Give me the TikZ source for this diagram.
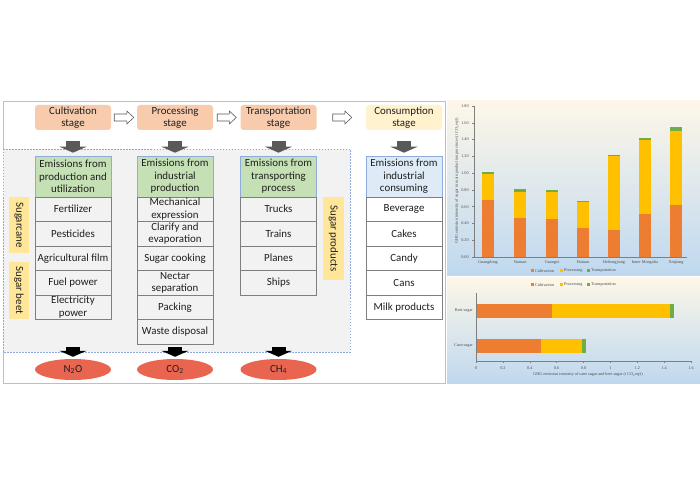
\documentclass[tikz,border=0pt]{standalone}
\usepackage{fontspec}
\setmainfont{Carlito}
\newfontfamily\chartfont{Liberation Serif}
\usetikzlibrary{calc,arrows.meta,shapes.geometric}
\definecolor{stageor}{HTML}{F8CBAD}
\definecolor{consyel}{HTML}{FFF2CC}
\definecolor{hdgreen}{HTML}{C5E0B4}
\definecolor{hdblue}{HTML}{DEEBF7}
\definecolor{hdborder}{HTML}{8FAADC}
\definecolor{itemborder}{HTML}{7F7F7F}
\definecolor{bggray}{HTML}{F2F2F2}
\definecolor{sideyel}{HTML}{FFE699}
\definecolor{gasred}{HTML}{EA6550}
\definecolor{darkarr}{HTML}{595959}
\definecolor{framegray}{HTML}{BFBFBF}
\definecolor{txt}{HTML}{1F1F1F}
\definecolor{cultc}{HTML}{ED7D31}
\definecolor{procc}{HTML}{FFC000}
\definecolor{tranc}{HTML}{70AD47}
\definecolor{paneltop}{HTML}{FDF7E8}
\definecolor{panelbot}{HTML}{BFD8EF}
\definecolor{axisc}{HTML}{7F7F7F}
\tikzset{
  base/.style={font=\fontsize{10.9}{12.5}\selectfont, text=txt, align=center, inner sep=0pt},
  stagebox/.style={base, rounded corners=3pt, minimum width=76pt, minimum height=25pt},
  headbox/.style={base, draw=hdborder, line width=0.6pt, fill=hdgreen, minimum width=76pt, minimum height=41pt},
  itembox/.style={base, draw=itemborder, line width=0.7pt, fill=bggray, minimum width=76pt, minimum height=24.5pt},
  sidebox/.style={base, fill=sideyel, rotate=-90, minimum height=20pt},
  gas/.style={base, ellipse, fill=gasred, minimum width=76pt, minimum height=21pt},
  downarr/.style={draw=darkarr, line width=14pt, -{Triangle[width=27pt,length=6pt]}},
  blackarr/.style={draw=black, line width=14pt, -{Triangle[width=27pt,length=6pt]}},
  hollow/.style={draw=darkarr, fill=white, line width=0.6pt, line join=miter,
    to path={let \p1=(\tikztostart), \p2=(\tikztotarget) in
      (\x1,\y1+3.5pt) -- (\x2-7pt,\y1+3.5pt) -- (\x2-7pt,\y1+6.5pt) -- (\x2,\y1)
      -- (\x2-7pt,\y1-6.5pt) -- (\x2-7pt,\y1-3.5pt) -- (\x1,\y1-3.5pt) -- cycle}},
  ctext/.style={font=\chartfont\fontsize{4.2}{4.7}\selectfont, text=txt!80, inner sep=0pt},
  axisline/.style={draw=axisc, line width=0.5pt}
}
\begin{document}
\begin{tikzpicture}[x=1pt,y=-1pt]
\useasboundingbox (0,0) rectangle (700,486);
% ---------------- left diagram ----------------
\draw[framegray, line width=0.8pt] (3,101) rectangle (445,383);
\draw[hdborder, line width=0.6pt, dash pattern=on 1.5pt off 1.5pt, fill=bggray] (3,149) rectangle (350,352);

\node[stagebox, fill=stageor] (cs) at (73,117.5) {Cultivation\\stage};
\node[stagebox, fill=stageor] (ps) at (175,117.5) {Processing\\stage};
\node[stagebox, fill=stageor] (ts) at (278.5,117.5) {Transportation\\stage};
\node[stagebox, fill=consyel] (us) at (404,117.5) {Consumption\\stage};

\draw[hollow] ($(cs.east)+(3,0)$) to ($(ps.west)+(-3,0)$);
\draw[hollow] ($(ps.east)+(4,0)$) to ($(ts.west)+(-4,0)$);
\draw[hollow] ($(ts.east)+(16,0)$) to ($(us.west)+(-14,0)$);

\node[headbox] (ch) at (73,176.5) {Emissions from\\production and\\utilization};
\node[headbox] (ph) at (175,176.5) {Emissions from\\industrial\\production};
\node[headbox] (th) at (278.5,176.5) {Emissions from\\transporting\\process};
\node[headbox, fill=hdblue] (uh) at (404,176.5) {Emissions from\\industrial\\consuming};

\draw[downarr, shorten <=11pt, shorten >=3pt] (cs.south) -- (ch.north);
\draw[downarr, shorten <=11pt, shorten >=3pt] (ps.south) -- (ph.north);
\draw[downarr, shorten <=11pt, shorten >=3pt] (ts.south) -- (th.north);
\draw[downarr, shorten <=11pt, shorten >=3pt] (us.south) -- (uh.north);

% cultivation items
\node[itembox] (c1) at (73,209.25) {Fertilizer};
\node[itembox] (c2) at (73,233.75) {Pesticides};
\node[itembox] (c3) at (73,258.25) {Agricultural film};
\node[itembox] (c4) at (73,282.75) {Fuel power};
\node[itembox] (c5) at (73,307.25) {Electricity\\power};
% processing items
\node[itembox] (p1) at (175,209.25) {Mechanical\\expression};
\node[itembox] (p2) at (175,233.75) {Clarify and\\evaporation};
\node[itembox] (p3) at (175,258.25) {Sugar cooking};
\node[itembox] (p4) at (175,282.75) {Nectar\\separation};
\node[itembox] (p5) at (175,307.25) {Packing};
\node[itembox] (p6) at (175,331.75) {Waste disposal};
% transportation items
\node[itembox] (t1) at (278.5,209.25) {Trucks};
\node[itembox] (t2) at (278.5,233.75) {Trains};
\node[itembox] (t3) at (278.5,258.25) {Planes};
\node[itembox] (t4) at (278.5,282.75) {Ships};
% consumption items
\node[itembox, fill=white] (u1) at (404,209.25) {Beverage};
\node[itembox, fill=white] (u2) at (404,233.75) {Cakes};
\node[itembox, fill=white] (u3) at (404,258.25) {Candy};
\node[itembox, fill=white] (u4) at (404,282.75) {Cans};
\node[itembox, fill=white] (u5) at (404,307.25) {Milk products};

\node[sidebox, minimum width=56pt] (sc) at (19,225) {Sugarcane};
\node[sidebox, minimum width=57pt] (sb) at (19,290.5) {Sugar beet};
\node[sidebox, minimum width=83pt, minimum height=21pt] (sp) at (333.5,238.5) {Sugar products};

\node[gas] (g1) at (73,369.5) {N\textsubscript{2}O};
\node[gas] (g2) at (175,369.5) {CO\textsubscript{2}};
\node[gas] (g3) at (278.5,369.5) {CH\textsubscript{4}};

\draw[blackarr, shorten <=27.5pt, shorten >=2pt] (c5.south) -- (g1.north);
\draw[blackarr, shorten <=3pt, shorten >=2pt] (p6.south) -- (g2.north);
\draw[blackarr, shorten <=52pt, shorten >=2pt] (t4.south) -- (g3.north);

% ---------------- top chart ----------------
\shade[top color=paneltop, bottom color=panelbot, middle color=paneltop!50!panelbot] (447,101) rectangle (700,275);
\foreach \v/\l in {0/0.00,0.2/0.20,0.4/0.40,0.6/0.60,0.8/0.80,1.0/1.00,1.2/1.20,1.4/1.40,1.6/1.60,1.8/1.80}{
  \node[ctext] at (465,{257-83.9*\v}) {\l};
  \draw[axisline] (472,{257-83.9*\v}) -- (474,{257-83.9*\v});
}
\foreach \xc/\c/\p/\t/\n in {488/0.68/0.99/1.01/Guangdong, 520/0.47/0.78/0.81/Yunnan, 552/0.45/0.77/0.80/Guangxi, 583/0.35/0.66/0.67/Hainan, 614/0.32/1.20/1.22/Heilongjiang, 645/0.51/1.40/1.42/Inner Mongolia, 676/0.62/1.50/1.55/Xinjiang}{
  \fill[cultc] (\xc-6,257) rectangle (\xc+6,{257-83.9*\c});
  \fill[procc] (\xc-6,{257-83.9*\c}) rectangle (\xc+6,{257-83.9*\p});
  \fill[tranc] (\xc-6,{257-83.9*\p}) rectangle (\xc+6,{257-83.9*\t});
  \node[ctext] at (\xc,262.5) {\n};
}
\draw[axisline] (474,106) -- (474,257) -- (687,257);
\node[ctext, rotate=90] at (457,181) {GHG emission intensity of sugar in main production provinces (t CO\textsubscript{2}eq/t)};
\fill[cultc] (530.5,269.3) rectangle (533.5,272.3);
\node[ctext, anchor=west] at (535,271) {Cultivation};
\fill[procc] (559.5,269.3) rectangle (562.5,272.3);
\node[ctext, anchor=west] at (564,271) {Processing};
\fill[tranc] (586.5,269.3) rectangle (589.5,272.3);
\node[ctext, anchor=west] at (591,271) {Transportation};

% ---------------- bottom chart ----------------
\shade[top color=paneltop, bottom color=panelbot] (447,277) rectangle (700,383);
\fill[cultc] (530.5,283.3) rectangle (533.5,286.3);
\node[ctext, anchor=west] at (535,285) {Cultivation};
\fill[procc] (559.5,283.3) rectangle (562.5,286.3);
\node[ctext, anchor=west] at (564,285) {Processing};
\fill[tranc] (586.5,283.3) rectangle (589.5,286.3);
\node[ctext, anchor=west] at (591,285) {Transportation};
% beet sugar
\fill[cultc] (476,304) rectangle ({476+134.4*0.565},318);
\fill[procc] ({476+134.4*0.565},304) rectangle ({476+134.4*1.44},318);
\fill[tranc] ({476+134.4*1.44},304) rectangle ({476+134.4*1.47},318);
% cane sugar
\fill[cultc] (476,339) rectangle ({476+134.4*0.48},352.5);
\fill[procc] ({476+134.4*0.48},339) rectangle ({476+134.4*0.79},352.5);
\fill[tranc] ({476+134.4*0.79},339) rectangle ({476+134.4*0.82},352.5);
\node[ctext, anchor=east] at (473,311) {Beet sugar};
\node[ctext, anchor=east] at (473,345.5) {Cane sugar};
\draw[axisline] (476,293) -- (476,361) -- (691,361);
\foreach \v/\l in {0/0,0.2/0.2,0.4/0.4,0.6/0.6,0.8/0.8,1.0/1,1.2/1.2,1.4/1.4,1.6/1.6}{
  \node[ctext] at ({476+134.4*\v},368) {\l};
  \draw[axisline] ({476+134.4*\v},361) -- ({476+134.4*\v},362.5);
}
\node[ctext] at (588,374.5) {GHG emission intensity of cane sugar and beet sugar (t CO\textsubscript{2}eq/t)};
\end{tikzpicture}
\end{document}
